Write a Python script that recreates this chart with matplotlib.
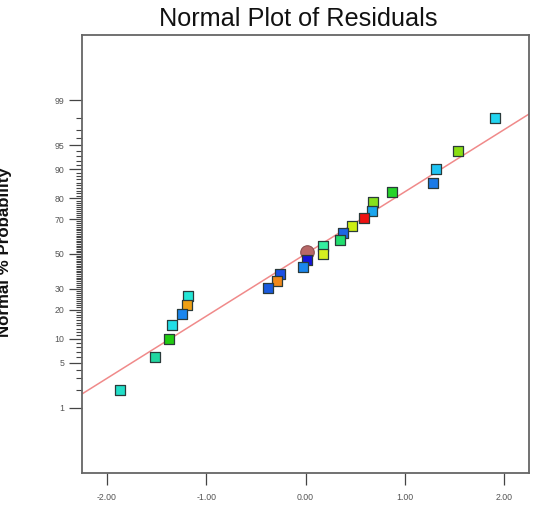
import math
import numpy as np
import matplotlib
matplotlib.use("Agg")
import matplotlib.pyplot as plt
from matplotlib.ticker import FixedLocator, NullFormatter

# ---- data ----
resid = [1.905, 1.538, 1.313, 1.280, 0.867, 0.682, 0.665, 0.588, 0.464, 0.380,
         0.350, 0.177, 0.174, 0.013, -0.027, -0.259, -0.282, -0.373, -1.179,
         -1.197, -1.247, -1.347, -1.378, -1.519, -1.872]
prob = [98.0, 94.0, 90.0, 86.0, 82.5, 78.5, 74.2, 70.5, 66.5, 62.6,
        58.5, 54.6, 50.2, 46.4, 42.4, 38.3, 34.4, 30.2, 26.3,
        22.2, 18.3, 14.2, 9.9, 6.0, 2.0]
colors = ["#22d4f0", "#8ade12", "#1ec4f4", "#1a7ae6", "#26d42a", "#86e01e",
          "#1aa6ee", "#ee1212", "#cdee12", "#1e66e6", "#22de6e", "#34eea0",
          "#d6ee20", "#1212dc", "#1a86ee", "#1a50e6", "#f0881a", "#1a5ade",
          "#24e6d6", "#f0a014", "#1a86ee", "#22dee6", "#22cc12", "#22d6a0",
          "#22dec8"]
center_x = [0.016]
center_p = [51.4]
fit_x = [-2.25, 2.25]
fit_p = [1.72, 98.28]

xticks = [-2.0, -1.0, 0.0, 1.0, 2.0]
xticklabels = ["-2.00", "-1.00", "0.00", "1.00", "2.00"]
yticks = [1, 5, 10, 20, 30, 50, 70, 80, 90, 95, 99]

# ---- normal-probability scale ----
_zg = np.linspace(-7, 7, 40001)
_erf = np.vectorize(math.erf)
_cg = 100.0 * 0.5 * (1.0 + _erf(_zg / math.sqrt(2)))

def fwd(p):
    p = np.asarray(p, dtype=float)
    return np.interp(p, _cg, _zg)

def inv(z):
    z = np.asarray(z, dtype=float)
    return np.interp(z, _zg, _cg)

fig = plt.figure(figsize=(5.33, 5.22), dpi=100)
ax = fig.add_axes([82/533, 1-473/522, (529-82)/533, (473-35)/522])
ax.set_yscale("function", functions=(fwd, inv))

ax.plot(fit_x, fit_p, color="#f08a8a", lw=1.1, zorder=2)
ax.scatter(center_x, center_p, s=95, marker="o", color="#b86868",
           edgecolors="#8a5050", linewidths=0.8, zorder=3)
ax.scatter(resid, prob, s=52, marker="s", c=colors, edgecolors="#2a3a3a",
           linewidths=0.9, zorder=4)

ax.set_xlim(-2.25, 2.25)
ax.set_ylim(float(inv(-3.31)), float(inv(3.31)))

ax.yaxis.set_major_locator(FixedLocator(yticks))
ax.set_yticklabels([str(t) for t in yticks])
minor = [v for v in range(2, 99) if v not in yticks]
ax.yaxis.set_minor_locator(FixedLocator(minor))
ax.yaxis.set_minor_formatter(NullFormatter())
ax.set_xticks(xticks)
ax.set_xticklabels(xticklabels)

for s in ax.spines.values():
    s.set_color("#666666")
    s.set_linewidth(1.3)

ax.tick_params(axis="y", which="major", length=9.5, width=0.9, color="#444444",
               labelsize=6.3, labelcolor="#555555", pad=3)
ax.tick_params(axis="y", which="minor", length=4.3, width=0.8, color="#444444")
ax.tick_params(axis="x", which="major", length=8.6, width=0.9, color="#444444",
               labelsize=6.3, labelcolor="#555555", pad=6)

for lbl in ax.get_xticklabels() + ax.get_yticklabels():
    lbl.set_fontfamily("Liberation Sans")

fig.text(298/533, 1-19/522, "Normal Plot of Residuals", ha="center", va="center",
         fontsize=18.2, family="Liberation Sans", color="#111111")
fig.text(12/533, 1-252/522, "Normal % Probability", rotation=90, ha="right",
         va="center", fontsize=12.2, fontweight="bold", family="Liberation Sans",
         color="#111111")

fig.savefig("out.png", dpi=100)
